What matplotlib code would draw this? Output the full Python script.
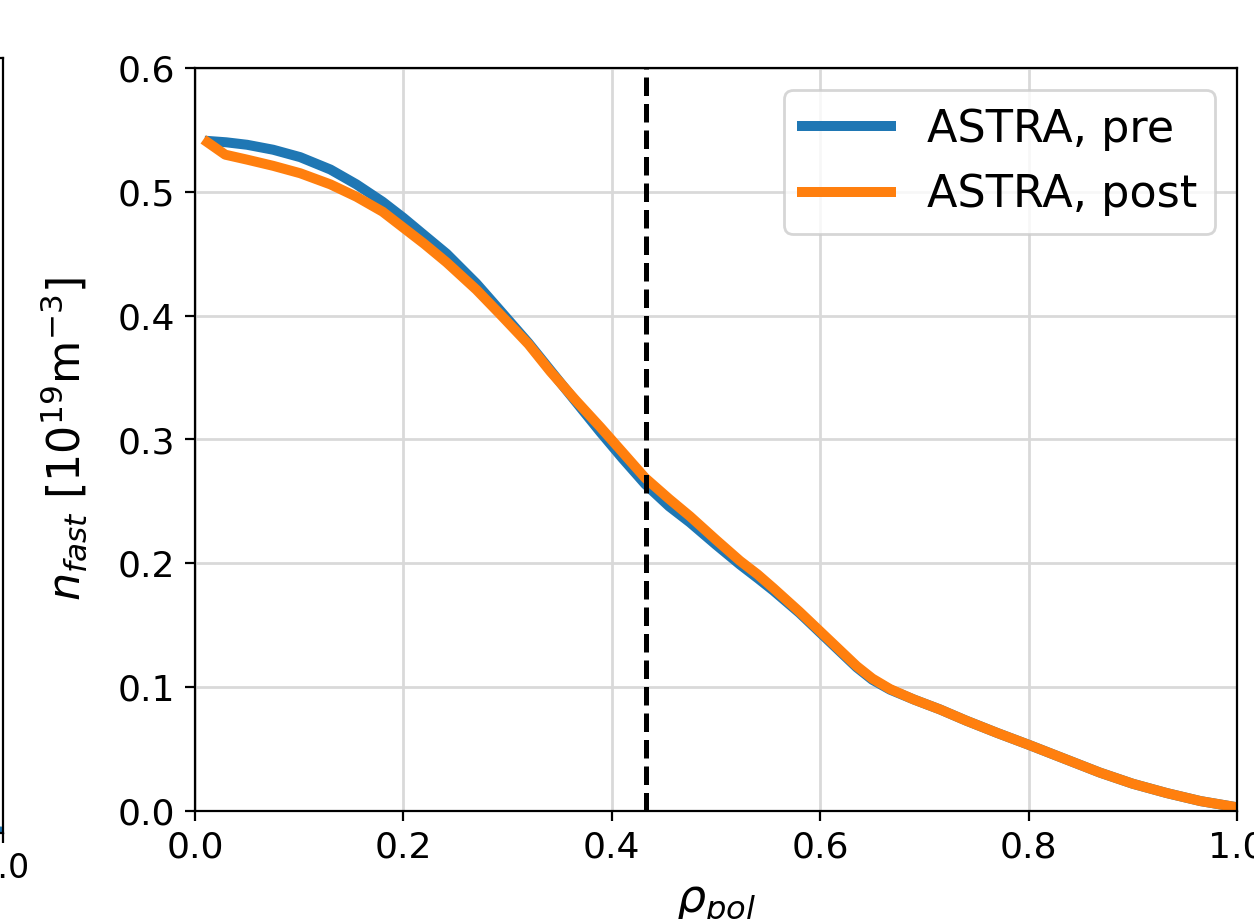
import numpy as np
import matplotlib
matplotlib.use("Agg")
import matplotlib.pyplot as plt

# fast-ion density profiles from ASTRA, before and after
rho_pre = [0.014, 0.03, 0.05, 0.075, 0.101, 0.13, 0.155, 0.18, 0.20, 0.22,
           0.2415, 0.27, 0.293, 0.32, 0.341, 0.365, 0.389, 0.41, 0.432,
           0.455, 0.475, 0.50, 0.523, 0.54, 0.555, 0.58, 0.60, 0.62, 0.635,
           0.65, 0.667, 0.69, 0.715, 0.74, 0.77, 0.80, 0.835, 0.8685, 0.90,
           0.9325, 0.965, 1.0]
n_pre = [0.541, 0.540, 0.538, 0.534, 0.528, 0.518, 0.506, 0.492, 0.479,
         0.465, 0.450, 0.426, 0.404, 0.378, 0.356, 0.331, 0.306, 0.285,
         0.264, 0.246, 0.233, 0.215, 0.199, 0.188, 0.178, 0.160, 0.144,
         0.128, 0.116, 0.106, 0.098, 0.090, 0.082, 0.073, 0.063, 0.0535,
         0.042, 0.031, 0.022, 0.0145, 0.008, 0.003]

rho_post = [0.012, 0.029, 0.05, 0.075, 0.101, 0.13, 0.155, 0.18, 0.20, 0.22,
            0.2415, 0.27, 0.293, 0.32, 0.341, 0.365, 0.389, 0.41, 0.432,
            0.455, 0.475, 0.50, 0.523, 0.54, 0.555, 0.58, 0.60, 0.62, 0.635,
            0.65, 0.667, 0.69, 0.715, 0.74, 0.77, 0.80, 0.835, 0.8685, 0.90,
            0.9325, 0.965, 1.0]
n_post = [0.540, 0.530, 0.526, 0.521, 0.515, 0.506, 0.496, 0.484, 0.471,
          0.458, 0.443, 0.421, 0.401, 0.377, 0.355, 0.332, 0.310, 0.290,
          0.269, 0.252, 0.238, 0.219, 0.202, 0.191, 0.180, 0.161, 0.145,
          0.129, 0.117, 0.107, 0.0985, 0.090, 0.082, 0.073, 0.063, 0.0535,
          0.042, 0.031, 0.022, 0.0145, 0.008, 0.003]

rho_mark = 0.433

W, H = 1254, 919
fig = plt.figure(figsize=(W / 200, H / 200), dpi=200)

# neighbouring panel, mostly outside the frame
ax0 = fig.add_axes([(3 - 900) / W, 1 - 833 / H, 900 / W, (833 - 58) / H])
ax0.plot([0.9, 1.0], [0.006, 0.001], color="tab:blue", lw=3.6)
ax0.set_xlim(0, 1)
ax0.set_ylim(0, 0.6)
ax0.set_xticks([1.0], ["1.0"])
ax0.set_yticks([])
ax0.tick_params(labelsize=12)

ax = fig.add_axes([195 / W, 1 - 811 / H, (1237 - 195) / W, (811 - 68) / H])
ax.plot(rho_pre, n_pre, color="tab:blue", lw=3.6, label="ASTRA, pre")
ax.plot(rho_post, n_post, color="tab:orange", lw=3.6, label="ASTRA, post")
ax.axvline(rho_mark, color="k", ls="--", lw=1.8)

ax.set_xlim(0, 1)
ax.set_ylim(0, 0.6)
ax.grid(True, color="0.85", lw=1.0)
ax.tick_params(labelsize=13)
ax.set_xlabel(r"$\rho_{pol}$", fontsize=16.5, labelpad=7)
ax.set_ylabel(r"$n_{fast}$ [$10^{19}$m$^{-3}$]", fontsize=16, labelpad=10)
ax.legend(loc="upper right", fontsize=16)

fig.savefig("out.png", dpi=200)
